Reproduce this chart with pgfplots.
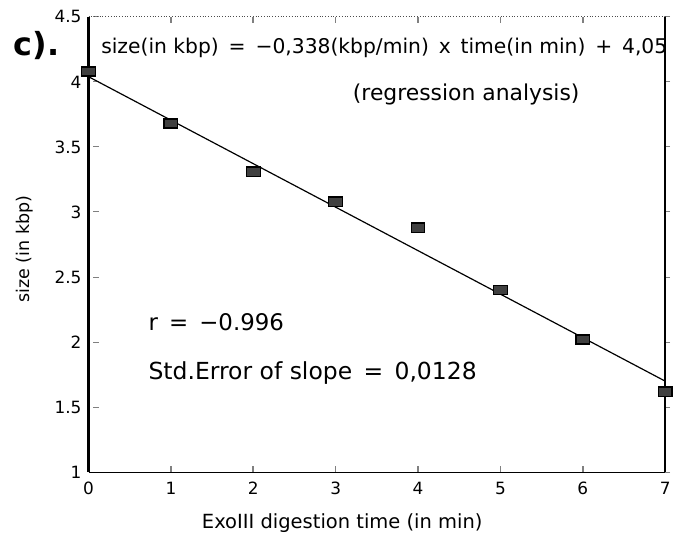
\documentclass[border=0pt]{standalone}
\usepackage{fontspec}
\setmainfont{DejaVu Sans}
\usepackage{pgfplots}
\pgfplotsset{compat=1.18}
\begin{document}
\begin{tikzpicture}
\begin{axis}[
  scale only axis,
  width=290pt, height=229pt,
  xmin=0, xmax=7, ymin=1, ymax=4.5,
  xtick={0,1,2,3,4,5,6,7},
  ytick={1,1.5,2,2.5,3,3.5,4,4.5},
  yticklabels={1,1.5,2,2.5,3,3.5,4,4.5},
  /pgf/number format/assume math mode=true,
  tick label style={font=\fontsize{8.5}{10}\selectfont},
  xticklabel style={yshift=-1.5pt},
  tick align=inside,
  major tick length=3pt,
  ytick style={xshift=2.5pt, line width=0.5pt},
  xtick style={line width=0.8pt},
  separate axis lines,
  x axis line style={draw=none},
  y axis line style={line width=1.3pt},
  clip=false,
  xlabel={ExoIII digestion time (in min)},
  ylabel={size (in kbp)},
  xlabel style={at={(axis description cs:0.44,-0.112)}, anchor=center, font=\fontsize{9.8}{12}\selectfont},
  ylabel style={at={(axis description cs:-0.110,0.49)}, anchor=center, font=\fontsize{8.8}{11}\selectfont},
  every axis plot/.append style={black},
]
\coordinate (bbll) at (rel axis cs:-0.1535,-0.157);
\coordinate (bbur) at (rel axis cs:1.0275,1.037);
\draw[line width=0.5pt] (rel axis cs:0,0) -- (rel axis cs:1,0);
\draw[line width=0.4pt, densely dotted, black!70] (rel axis cs:0,1) -- (rel axis cs:1,1);
% regression line
\addplot[line width=0.6pt, no marks] coordinates {(0,4.04) (7,1.70)};
% measured points
\addplot[only marks, mark=square*, mark size=2.3pt,
  mark options={xscale=1.5, draw=black, fill=black!75, line width=0.6pt}]
  coordinates {(0,4.08) (1,3.68) (2,3.31) (3,3.08) (4,2.88) (5,2.40) (6,2.02) (7,1.62)};
\node[anchor=west, inner sep=1pt, font=\fontsize{10.2}{12}\selectfont] at (rel axis cs:0.018,0.932)
  {size(in kbp) \,=\, −0,338(kbp/min) \,x\, time(in min) \,+\, 4,05};
\node[anchor=center, font=\fontsize{11}{12}\selectfont] at (rel axis cs:0.655,0.83) {(regression analysis)};
\node[anchor=west, font=\fontsize{11.5}{12}\selectfont] at (rel axis cs:0.092,0.33) {r \,=\, −0.996};
\node[anchor=west, font=\fontsize{11.8}{12}\selectfont] at (rel axis cs:0.092,0.218) {Std.Error of slope \,=\, 0,0128};
\node[anchor=center, font=\bfseries\fontsize{16}{18}\selectfont] at (rel axis cs:-0.090,0.937) {c).};
\end{axis}
\pgfresetboundingbox
\path (bbll) rectangle (bbur);
\end{tikzpicture}
\end{document}
